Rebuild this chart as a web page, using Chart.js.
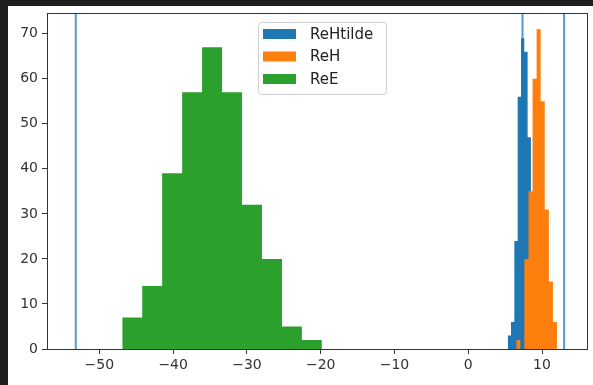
<!DOCTYPE html>
<html>
<head>
<meta charset="utf-8">
<script src="https://cdn.jsdelivr.net/npm/chart.js@4.4.1/dist/chart.umd.min.js"></script>
<style>
  html, body { margin: 0; padding: 0; background: #1e1e1e; }
</style>
</head>
<body>
<canvas id="histChart" width="593" height="385"></canvas>
<script>
// histogram bin edges and counts
const seriesNames = ['ReHtilde', 'ReH', 'ReE'];
const seriesColors = ['#1f77b4', '#ff7f0e', '#2ca02c'];

const reHtildeEdges = [5.35, 5.80, 6.25, 6.70, 7.15, 7.60, 8.05, 8.50, 8.95, 9.40, 9.85];
const reHtildeCounts = [3, 6, 24, 56, 69, 66, 47, 20, 7, 2];

const reHEdges = [6.51, 7.06, 7.61, 8.17, 8.72, 9.27, 9.82, 10.37, 10.93, 11.48, 12.03];
const reHCounts = [2, 0, 20, 35, 60, 71, 55, 31, 15, 6];

const reEEdges = [-46.90, -44.19, -41.49, -38.78, -36.08, -33.37, -30.66, -27.96, -25.25, -22.55, -19.84];
const reECounts = [7, 14, 39, 57, 67, 57, 32, 20, 5, 2];

// vertical marker lines
const vLines = [-53.2, 7.36, 13.0];

const xTicks = [-50, -40, -30, -20, -10, 0, 10];
const yTicks = [0, 10, 20, 30, 40, 50, 60, 70];
const xMin = -57.1, xMax = 16.1;
const yMin = 0, yMax = 74.6;

// turn edges + counts into a stepped outline
function histPoints(edges, counts) {
  const pts = counts.map((c, i) => ({ x: edges[i], y: c }));
  pts.push({ x: edges[edges.length - 1], y: counts[counts.length - 1] });
  return pts;
}

const histData = [
  histPoints(reHtildeEdges, reHtildeCounts),
  histPoints(reHEdges, reHCounts),
  histPoints(reEEdges, reECounts)
];

const datasets = histData.map((pts, i) => ({
  label: seriesNames[i],
  data: pts,
  stepped: true,
  fill: 'origin',
  backgroundColor: seriesColors[i],
  borderWidth: 0,
  pointRadius: 0,
  order: 3 - i,
  inLegend: true
}));

vLines.forEach(v => {
  datasets.push({
    label: 'vline',
    data: [{ x: v, y: yMin }, { x: v, y: yMax }],
    borderColor: 'rgba(31, 119, 180, 0.75)',
    borderWidth: 2,
    pointRadius: 0,
    fill: false,
    order: 0
  });
});

const frame = {
  id: 'frame',
  beforeDraw(chart) {
    const ctx = chart.ctx;
    ctx.save();
    ctx.fillStyle = '#1e1e1e';
    ctx.fillRect(0, 0, chart.width, chart.height);
    ctx.fillStyle = '#ffffff';
    ctx.fillRect(8, 6, chart.width - 8, chart.height - 6);
    ctx.restore();
  },
  afterDraw(chart) {
    const ctx = chart.ctx;
    const a = chart.chartArea;
    ctx.save();
    // spines
    ctx.strokeStyle = '#333';
    ctx.lineWidth = 1;
    ctx.strokeRect(Math.round(a.left) + 0.5, Math.round(a.top) + 0.5,
      Math.round(a.right - a.left), Math.round(a.bottom - a.top));

    // legend
    const items = chart.data.datasets.filter(d => d.inLegend);
    const bx = 258, by = 22, bw = 128, bh = 72;
    ctx.fillStyle = 'rgba(255,255,255,0.85)';
    ctx.strokeStyle = '#d0d0d0';
    ctx.beginPath();
    ctx.roundRect(bx + 0.5, by + 0.5, bw, bh, 3);
    ctx.fill();
    ctx.stroke();
    ctx.font = '15px "DejaVu Sans"';
    ctx.textBaseline = 'middle';
    items.forEach((d, i) => {
      const cy = by + 12 + i * 22.5;
      ctx.fillStyle = d.backgroundColor;
      ctx.fillRect(bx + 5, cy - 5, 33, 10);
      ctx.fillStyle = '#222';
      ctx.fillText(d.label, bx + 52, cy + 1);
    });
    ctx.restore();
  }
};

new Chart(document.getElementById('histChart'), {
  type: 'line',
  data: { datasets },
  options: {
    responsive: false,
    animation: false,
    layout: { padding: { top: 13, right: 6, left: 0, bottom: 0 } },
    plugins: {
      legend: { display: false },
      tooltip: { enabled: false }
    },
    scales: {
      x: {
        type: 'linear',
        min: xMin,
        max: xMax,
        afterBuildTicks: s => { s.ticks = xTicks.map(v => ({ value: v })); },
        afterFit: s => { s.height = 36; },
        grid: { drawOnChartArea: false, drawTicks: true, tickLength: 5, color: '#333' },
        border: { display: false },
        ticks: {
          padding: 3,
          maxRotation: 0,
          color: '#333',
          font: { family: 'DejaVu Sans', size: 14 },
          callback: v => (v < 0 ? '\u2212' + Math.abs(v) : String(v))
        }
      },
      y: {
        min: yMin,
        max: yMax,
        afterBuildTicks: s => { s.ticks = yTicks.map(v => ({ value: v })); },
        afterFit: s => { s.width = 47; },
        grid: { drawOnChartArea: false, drawTicks: true, tickLength: 5, color: '#333' },
        border: { display: false },
        ticks: {
          padding: 4,
          color: '#333',
          font: { family: 'DejaVu Sans', size: 14 }
        }
      }
    }
  },
  plugins: [frame]
});
</script>
</body>
</html>
